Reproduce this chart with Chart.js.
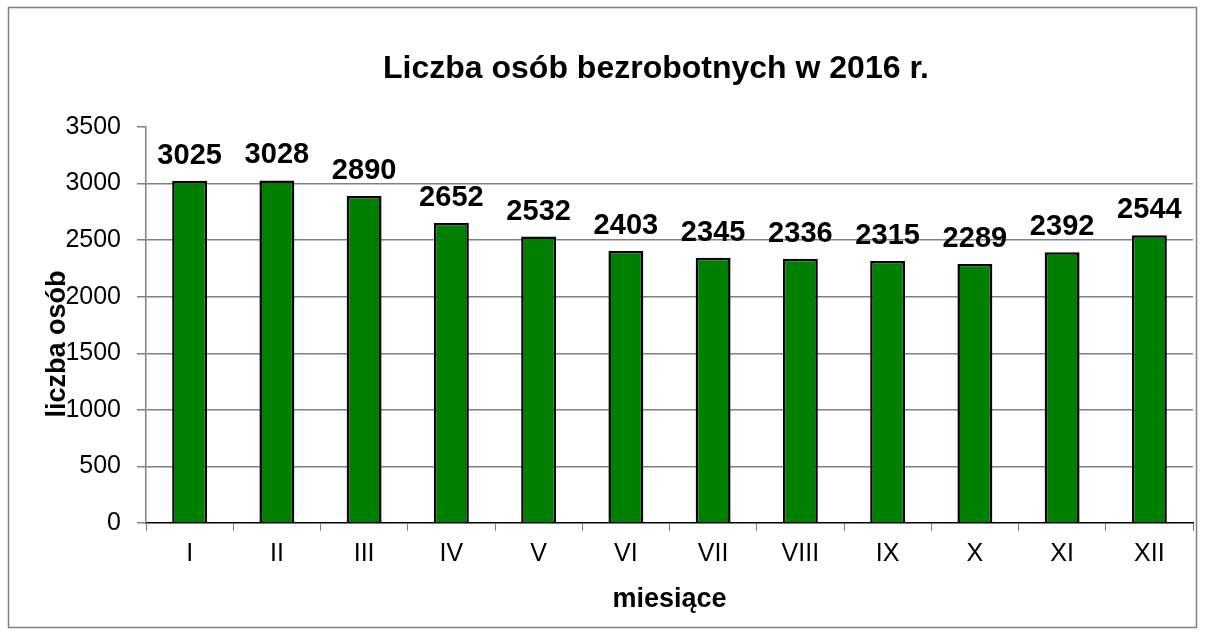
<!DOCTYPE html>
<html>
<head>
<meta charset="utf-8">
<script src="https://cdn.jsdelivr.net/npm/chart.js@4.4.0/dist/chart.umd.min.js"></script>
<style>
  body { margin: 0; background: #ffffff; }
  canvas { display: block; }
</style>
</head>
<body>
<canvas id="bar_chart_bezrobotni" width="1206" height="635"></canvas>
<script>
var months = ["I", "II", "III", "IV", "V", "VI", "VII", "VIII", "IX", "X", "XI", "XII"];
var unemployed = [3025, 3028, 2890, 2652, 2532, 2403, 2345, 2336, 2315, 2289, 2392, 2544];
var yTicks = [0, 500, 1000, 1500, 2000, 2500, 3000, 3500];

var chartTitle = "Liczba osób bezrobotnych w 2016 r.";
var yTitle = "liczba osób";
var xTitle = "miesiące";

var fontFamily = "'Liberation Sans', Arial, sans-serif";

// frame, title, y title and value labels
var extrasPlugin = {
  id: "extras",
  beforeDraw: function(chart) {
    var ctx = chart.ctx;
    ctx.save();
    ctx.fillStyle = "#ffffff";
    ctx.fillRect(0, 0, chart.width, chart.height);
    ctx.strokeStyle = "#808080";
    ctx.lineWidth = 1.5;
    ctx.strokeRect(8.5, 7.5, 1188, 620);
    ctx.restore();
  },
  afterDraw: function(chart) {
    var ctx = chart.ctx;
    ctx.save();
    ctx.fillStyle = "#000000";

    ctx.font = "bold 32px " + fontFamily;
    ctx.textAlign = "center";
    ctx.textBaseline = "alphabetic";
    ctx.fillText(chartTitle, 656, 78);

    ctx.save();
    ctx.translate(65, 344);
    ctx.rotate(-Math.PI / 2);
    ctx.font = "bold 27px " + fontFamily;
    ctx.fillText(yTitle, 0, 0);
    ctx.restore();

    ctx.font = "bold 29px " + fontFamily;
    var meta = chart.getDatasetMeta(0);
    meta.data.forEach(function(bar, i) {
      ctx.fillText(String(unemployed[i]), bar.x, bar.y - 17);
    });
    ctx.restore();
  }
};

function showChart() {
  var config = {
    type: "bar",
    data: {
      labels: months,
      datasets: [{
        label: yTitle,
        data: unemployed,
        backgroundColor: "#008000",
        borderColor: "#000000",
        borderWidth: 2.5,
        barPercentage: 0.4,
        categoryPercentage: 1.0
      }]
    },
    options: {
      responsive: false,
      animation: false,
      layout: {
        padding: { left: 10, right: 13, top: 127, bottom: 0 }
      },
      plugins: {
        legend: { display: false },
        tooltip: { enabled: false },
        title: { display: false }
      },
      scales: {
        x: {
          grid: {
            offset: true,
            drawOnChartArea: false,
            drawTicks: true,
            tickLength: 8,
            color: "#808080"
          },
          border: { color: "#000000", width: 1.5 },
          ticks: {
            color: "#000000",
            padding: 8,
            font: { family: fontFamily, size: 25 }
          },
          title: {
            display: true,
            text: xTitle,
            color: "#000000",
            font: { family: fontFamily, size: 27, weight: "bold" },
            padding: { top: 0, bottom: 19 }
          },
          afterFit: function(scale) {
            scale.height = 112;
          }
        },
        y: {
          min: 0,
          max: 3500,
          afterBuildTicks: function(scale) {
            scale.ticks = yTicks.map(function(v) { return { value: v }; });
          },
          grid: {
            color: function(c) {
              if (c.tick && (c.tick.value === 3500 || c.tick.value === 0)) return "rgba(0,0,0,0)";
              return "#808080";
            },
            tickColor: "#808080",
            tickLength: 9,
            lineWidth: 1.5
          },
          border: { color: "#808080", width: 1.5 },
          ticks: {
            color: "#000000",
            padding: 16,
            font: { family: fontFamily, size: 25 },
            callback: function(value) {
              return String(value);
            }
          },
          afterFit: function(scale) {
            scale.width = 136;
          }
        }
      }
    },
    plugins: [extrasPlugin]
  };

  new Chart(document.getElementById("bar_chart_bezrobotni").getContext("2d"), config);
}

document.addEventListener("DOMContentLoaded", showChart, false);
</script>
</body>
</html>
